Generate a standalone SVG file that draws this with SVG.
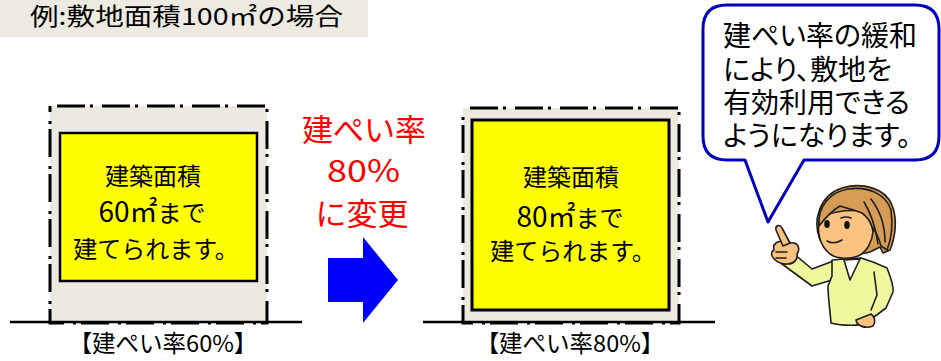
<svg xmlns="http://www.w3.org/2000/svg" width="941" height="361" viewBox="0 0 941 361">
  <style>
    text { font-family: "Noto Sans CJK JP", "Noto Sans", sans-serif; fill: #000; }
    .site { fill: #ECE9E0; stroke: #000; stroke-width: 3; stroke-dasharray: 28 5 3 9; stroke-dashoffset: -7; }
    .bldg { fill: #FFFF00; stroke: #000; }
    .ground { stroke: #000; stroke-width: 2.5; }
    .inner { font-size: 24px; text-anchor: middle; }
    .num { font-size: 28px; }
    .label { font-size: 23.5px; text-anchor: middle; }
    .red { font-size: 31px; fill: #FF0000; text-anchor: middle; }
    .say { font-size: 28px; font-feature-settings: "palt"; }
    .ink { stroke: #1E1E1E; stroke-width: 1.6; stroke-linejoin: round; stroke-linecap: round; }
  </style>

  <!-- heading band -->
  <g id="header">
    <rect x="0" y="0" width="368" height="37" fill="#ECEAE1"/>
    <text x="30" y="25" font-size="23.5" textLength="313" lengthAdjust="spacingAndGlyphs">例:敷地面積100㎡の場合</text>
  </g>

  <!-- lot with 60% coverage -->
  <g id="site-60">
    <rect class="site" x="50" y="106" width="217" height="217"/>
    <rect class="bldg" x="60" y="133" width="197" height="148" stroke-width="2.5"/>
    <text class="inner" x="153" y="185">建築面積</text>
    <text class="inner" x="152" y="222"><tspan class="num">60㎡</tspan>まで</text>
    <text class="inner" x="156" y="258">建てられます。</text>
    <line class="ground" x1="10" y1="322" x2="302" y2="322"/>
    <text class="label" x="163" y="352">【建ぺい率60%】</text>
  </g>

  <!-- change note -->
  <g id="change-note">
    <text class="red" x="364" y="141">建ぺい率</text>
    <text class="red" x="327" y="182" style="text-anchor:start" textLength="73" lengthAdjust="spacingAndGlyphs">80%</text>
    <text class="red" x="362" y="225">に変更</text>
  </g>

  <!-- block arrow between the two lots -->
  <g id="connectors">
    <polygon points="328,258 363,258 363,237 398,280 363,323 363,302 328,302" fill="#0000FF"/>
  </g>

  <!-- lot with 80% coverage -->
  <g id="site-80">
    <rect class="site" x="463" y="108" width="216" height="215"/>
    <rect class="bldg" x="472" y="120" width="197" height="190" stroke-width="3"/>
    <text class="inner" x="571" y="186">建築面積</text>
    <text class="inner" x="570" y="227"><tspan class="num">80㎡</tspan>まで</text>
    <text class="inner" x="573" y="260">建てられます。</text>
    <line class="ground" x1="423" y1="322" x2="715" y2="322"/>
    <text class="label" x="570" y="352">【建ぺい率80%】</text>
  </g>

  <!-- speech bubble -->
  <g id="bubble">
    <path d="M 727,5 H 915 Q 939,5 939,29 V 136 Q 939,160 915,160 H 804 L 768,222 L 745,160 H 727 Q 703,160 703,136 V 29 Q 703,5 727,5 Z"
          fill="#FFFFFF" stroke="#0000C0" stroke-width="3" stroke-linejoin="round"/>
    <text class="say" x="723" y="46">建ぺい率の緩和</text>
    <text class="say" x="723" y="80">により、敷地を</text>
    <text class="say" x="723" y="113">有効利用できる</text>
    <text class="say" x="723" y="146">ようになります。</text>
  </g>

  <!-- presenter figure -->
  <g id="presenter" transform="translate(770,180)">
    <!-- hair, back -->
    <path class="ink" fill="#D69C56" d="M 50,60 C 42,40 50,15 72,8 C 92,2 115,8 122,25 C 128,40 125,58 120,70 L 113,73 L 110,67 L 100,72 C 90,75 70,75 60,70 Z"/>
    <!-- sleeve of the raised arm -->
    <path class="ink" fill="#EFF79C" d="M 66,80 L 42,89 L 24,74 L 12,84 L 42,106 L 62,100 Z"/>
    <!-- torso -->
    <path class="ink" fill="#EFF79C" d="M 62,80 L 75,79 L 91,78 L 103,82 L 117,88 C 121,98 124,106 123,112 L 116,128 L 104,137 L 100,143 C 90,146 72,146 61,143 C 60,130 58,118 58,106 L 62,96 Z"/>
    <path class="ink" fill="none" d="M 104,92 L 107,115 L 101,130"/>
    <path class="ink" fill="#FFFFFF" d="M 74,80 L 80,100 L 90,79 Z"/>
    <!-- face -->
    <path class="ink" fill="#F9C27F" d="M 50,38 C 46,52 50,66 60,74 C 67,79 80,80 90,75 C 97,71 102,62 103,52 L 100,34 C 85,28 65,30 50,38 Z"/>
    <!-- fringe -->
    <path class="ink" fill="#D69C56" d="M 49,46 C 47,27 60,12 78,9 C 98,6 116,14 121,30 C 123,45 121,60 117,70 L 111,66 C 109,58 106,52 102,47 C 100,40 96,36 92,33 C 84,30 76,28 70,26 C 63,30 56,37 49,46 Z"/>
    <path class="ink" fill="none" d="M 94,22 C 102,35 106,50 108,64 M 101,19 C 111,32 115,47 115,62"/>
    <!-- eyes, brow, mouth -->
    <ellipse cx="57" cy="44" rx="2.8" ry="4" fill="#111"/>
    <ellipse cx="77" cy="45" rx="2.8" ry="4" fill="#111"/>
    <path class="ink" fill="none" d="M 71,38 Q 76,36 81,38"/>
    <path class="ink" fill="none" d="M 57,61 Q 64,65 72,60"/>
    <!-- hand at the waist -->
    <path class="ink" fill="#F9C27F" d="M 86,140 C 87,146 95,149 103,146 C 106,142 105,137 101,134 Z"/>
    <!-- pointing hand -->
    <path class="ink" fill="#F9C27F" d="M 4,70 C 2,64 8,60 14,62 L 24,63 C 29,64 30,70 27,74 C 28,79 24,84 18,84 C 10,85 4,80 2,76 C 1,73 2,71 4,70 Z"/>
    <path class="ink" fill="#F9C27F" d="M 6,50 C 5,45 10,44 12,48 L 20,63 L 13,66 Z"/>
    <path class="ink" fill="none" d="M 6,72 L 17,72 M 6,78 L 16,78"/>
  </g>
</svg>
